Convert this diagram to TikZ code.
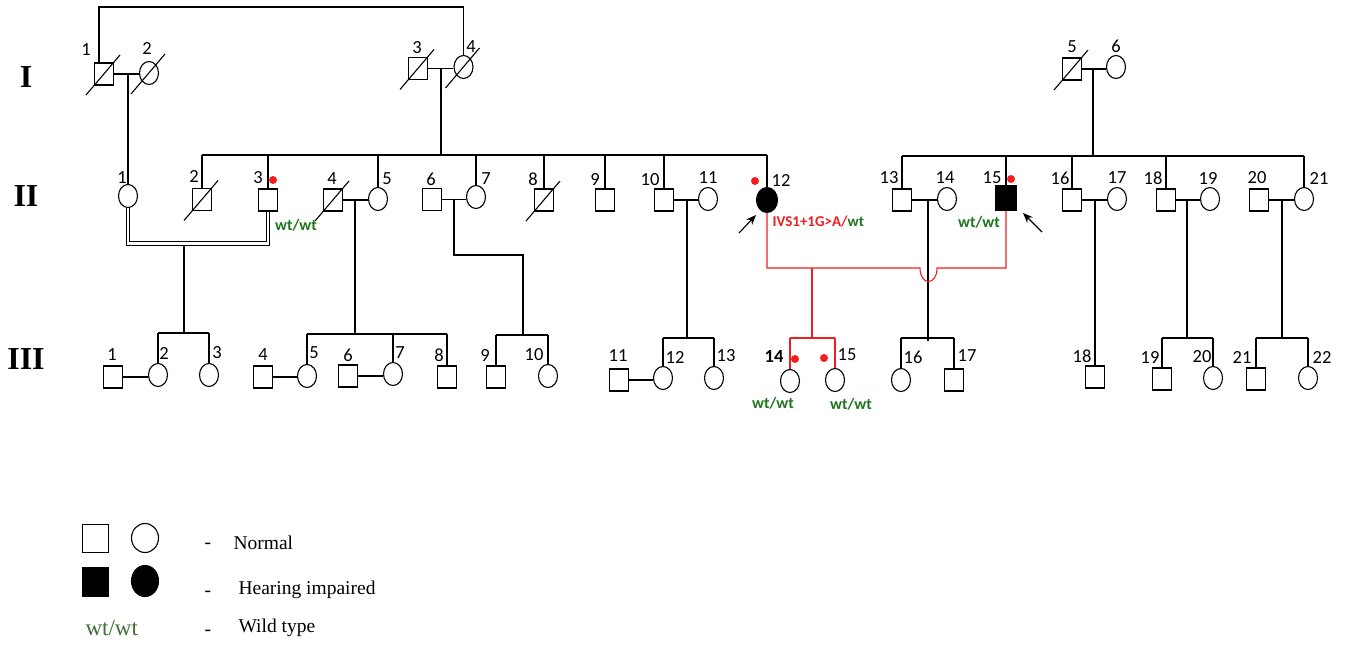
\documentclass[tikz,border=0pt]{standalone}
\usepackage{fontspec}
\setmainfont{Liberation Serif}
\newfontfamily\calfont{Carlito}
\usetikzlibrary{shapes.geometric,arrows.meta,calc}
\definecolor{gred}{RGB}{240,30,30}
\definecolor{dgreen}{RGB}{28,118,28}
\definecolor{lgreen}{RGB}{60,112,50}
\newcommand\deceased[1]{\draw ([shift={(-18,21)}]#1.center) -- ([shift={(16,-19)}]#1.center);}
\begin{document}
\begin{tikzpicture}[x=1pt,y=-1pt,line width=1.1pt,
  msq/.style={draw,rectangle,minimum width=19pt,minimum height=22pt,inner sep=0pt},
  fci/.style={draw,ellipse,minimum width=19pt,minimum height=23pt,inner sep=0pt},
  aff/.style={fill=black},
  num/.style={font=\calfont\fontsize{18.5}{18.5}\selectfont,inner sep=0pt},
  gen/.style={font=\bfseries\fontsize{32}{32}\selectfont,inner sep=0pt},
  gt/.style={font=\calfont\bfseries\fontsize{16}{16}\selectfont,inner sep=0pt,text=dgreen},
  leg/.style={font=\fontsize{19.5}{19.5}\selectfont,inner sep=0pt,anchor=west},
  rdot/.style={circle,fill=gred,draw=none,minimum size=8pt,inner sep=0pt},
  arr/.style={-{Stealth[length=10pt,width=8pt]},line width=1.1pt},
  red line/.style={draw=gred,line width=1.1pt}]
\useasboundingbox (0,0) rectangle (1346,645);

% generation labels
\node[gen] (gI) at (26,77) {I};
\node[gen] (gII) at (26,196) {II};
\node[gen] (gIII) at (26,359) {III};

% ---------- Generation I ----------
\node[msq] (I1) at (104,74) {};
\node[fci] (I2) at (149,73) {};
\node[msq] (I3) at (418,68.5) {};
\node[fci] (I4) at (463.5,67) {};
\node[msq] (I5) at (1072,69) {};
\node[fci] (I6) at (1116,67) {};
\deceased{I1}\deceased{I2}\deceased{I3}\deceased{I4}\deceased{I5}
\node[num] (nI1) at (86,50) {1};
\node[num] (nI2) at (147,48) {2};
\node[num] (nI3) at (417,48) {3};
\node[num] (nI4) at (471,47) {4};
\node[num] (nI5) at (1072,47) {5};
\node[num] (nI6) at (1116,46) {6};

\coordinate (top) at (0,7);
\draw ([xshift=-5pt]I1.north) |- (top -| I4.north) -- (I4.north);
\draw (I1.east) -- (I2.west |- I1.east);
\draw (I3.east) -- (I4.west |- I3.east);
\draw (I5.east) -- (I6.west |- I5.east);

% ---------- Generation II ----------
\node[fci] (II1) at (128,196) {};
\node[msq] (II2) at (202,199.5) {};
\node[msq] (II3) at (268,200) {};
\node[msq] (II4) at (333,200) {};
\node[fci] (II5) at (378,199) {};
\node[msq] (II6) at (432,199.5) {};
\node[fci] (II7) at (476,197) {};
\node[msq] (II8) at (544,200) {};
\node[msq] (II9) at (605,200) {};
\node[msq] (II10) at (664,200) {};
\node[fci] (II11) at (708,199) {};
\node[fci,aff,minimum width=21pt,minimum height=25pt] (II12) at (767,200) {};
\node[msq] (II13) at (902,200) {};
\node[fci] (II14) at (947,199) {};
\node[msq,aff,minimum width=21pt,minimum height=24pt] (II15) at (1006,198) {};
\node[msq] (II16) at (1072,200) {};
\node[fci] (II17) at (1117,199) {};
\node[msq] (II18) at (1166,200) {};
\node[fci] (II19) at (1210,199) {};
\node[msq] (II20) at (1259,200) {};
\node[fci] (II21) at (1304,199) {};
\deceased{II2}\deceased{II4}\deceased{II8}

\node[num] (nII1) at (122,178) {1};
\node[num] (nII2) at (194,176) {2};
\node[num] (nII3) at (258,178) {3};
\node[num] (nII4) at (332,179) {4};
\node[num] (nII5) at (387,179) {5};
\node[num] (nII6) at (431,179) {6};
\node[num] (nII7) at (486,179) {7};
\node[num] (nII8) at (533,179) {8};
\node[num] (nII9) at (595,179) {9};
\node[num] (nII10) at (650,180) {10};
\node[num] (nII11) at (708,178) {11};
\node[num] (nII12) at (781,180) {12};
\node[num] (nII13) at (889,178) {13};
\node[num] (nII14) at (945,178) {14};
\node[num] (nII15) at (992,178) {15};
\node[num] (nII16) at (1060,178) {16};
\node[num] (nII17) at (1117,178) {17};
\node[num] (nII18) at (1153,178) {18};
\node[num] (nII19) at (1208,178) {19};
\node[num] (nII20) at (1257,178) {20};
\node[num] (nII21) at (1319,178) {21};

% descent I1-I2 -> II1
\draw (128,74) -- (II1.north);
% descent I3-I4 -> sibship
\coordinate (sA) at (0,155);
\draw (441,68) -- (441,155);
\draw (II2.north |- sA) -- (II12.north |- sA);
\foreach \n in {II2,II3,II5,II7,II8,II9,II10,II12}{\draw (\n.north |- sA) -- (\n.north);}
% descent I5-I6 -> sibship
\coordinate (sB) at (0,156);
\draw (1093,68) -- (1093,156);
\draw (II13.north |- sB) -- (II21.north |- sB);
\foreach \n in {II13,II15,II16,II18,II21}{\draw (\n.north |- sB) -- (\n.north);}

% marriages generation II
\draw (II4.east) -- (II5.west |- II4.east);
\draw (II6.east) -- (II7.west |- II6.east);
\draw (II10.east) -- (II11.west |- II10.east);
\draw (II13.east) -- (II14.west |- II13.east);
\draw (II16.east) -- (II17.west |- II16.east);
\draw (II18.east) -- (II19.west |- II18.east);
\draw (II20.east) -- (II21.west |- II20.east);

% consanguineous marriage II1 x II3
\coordinate (hB) at (0,243.5);
\draw[double,double distance=2.6pt,line width=1pt] (II1.south) -- (II1.south |- hB) -- (II3.south |- hB) -- (II3.south);

% genotype labels II
\node[rdot] (d3) at (273,180) {};
\node[gt,anchor=center] (g3) at (296,225) {wt/wt};
\node[rdot] (d12) at (755,181) {};
\node[gt,anchor=west,text=gred,font=\calfont\bfseries\fontsize{15}{15}\selectfont] (g12) at (772,222) {IVS1+1G>A/\textcolor{dgreen}{wt}};
\node[rdot] (d15) at (1011,179) {};
\node[gt,anchor=center] (g15) at (979,222) {wt/wt};
\coordinate (a12t) at (739,233);
\coordinate (a12h) at (756,215);
\draw[arr] (a12t) -- (a12h);
\coordinate (a15t) at (1042,232);
\coordinate (a15h) at (1023,213);
\draw[arr] (a15t) -- (a15h);

% ---------- Generation III ----------
\node[msq] (III1) at (113,377) {};
\node[fci] (III2) at (158,375) {};
\node[fci] (III3) at (209,375) {};
\node[msq] (III4) at (263,377) {};
\node[fci] (III5) at (307,376) {};
\node[msq] (III6) at (348,376) {};
\node[fci] (III7) at (393,374) {};
\node[msq] (III8) at (447,377) {};
\node[msq] (III9) at (496,377) {};
\node[fci] (III10) at (548,376) {};
\node[msq] (III11) at (619,380) {};
\node[fci] (III12) at (663,378) {};
\node[fci] (III13) at (714,378) {};
\node[fci] (III14) at (790,381) {};
\node[fci] (III15) at (835,380) {};
\node[fci] (III16) at (901,380) {};
\node[msq] (III17) at (954,380) {};
\node[msq] (III18) at (1095,377) {};
\node[msq] (III19) at (1162,379) {};
\node[fci] (III20) at (1213,378) {};
\node[msq] (III21) at (1256,379) {};
\node[fci] (III22) at (1308,378) {};

\node[num] (nIII1) at (112,355) {1};
\node[num] (nIII2) at (164,353) {2};
\node[num] (nIII3) at (217,353) {3};
\node[num] (nIII4) at (263,355) {4};
\node[num] (nIII5) at (314,353) {5};
\node[num] (nIII6) at (348,355) {6};
\node[num] (nIII7) at (400,353) {7};
\node[num] (nIII8) at (439,355) {8};
\node[num] (nIII9) at (485,355) {9};
\node[num] (nIII10) at (534,355) {10};
\node[num] (nIII11) at (618,356) {11};
\node[num] (nIII12) at (675,357) {12};
\node[num] (nIII13) at (726,356) {13};
\node[num,font=\calfont\bfseries\fontsize{18.5}{18.5}\selectfont] (nIII14) at (774,356) {14};
\node[num] (nIII15) at (847,355) {15};
\node[num] (nIII16) at (913,357) {16};
\node[num] (nIII17) at (967,356) {17};
\node[num] (nIII18) at (1082,356) {18};
\node[num] (nIII19) at (1150,357) {19};
\node[num] (nIII20) at (1202,357) {20};
\node[num] (nIII21) at (1242,357) {21};
\node[num] (nIII22) at (1322,357) {22};

% marriages generation III
\draw (III1.east) -- (III2.west |- III1.east);
\draw (III4.east) -- (III5.west |- III4.east);
\draw (III6.east) -- (III7.west |- III6.east);
\draw (III11.east) -- (III12.west |- III11.east);

% sibships generation III
\coordinate (t1) at (0,333);
\draw (184,245.5) -- (184,333);
\draw (III2.north |- t1) -- (III3.north |- t1);
\foreach \n in {III2,III3}{\draw (\n.north |- t1) -- (\n.north);}

\coordinate (t2) at (0,334);
\draw (355,200) -- (355,334);
\draw (III5.north |- t2) -- (III8.north |- t2);
\foreach \n in {III5,III7,III8}{\draw (\n.north |- t2) -- (\n.north);}

\coordinate (t3) at (0,335);
\draw (454,199.5) |- (523,255) -- (523,335);
\draw (III9.north |- t3) -- (III10.north |- t3);
\foreach \n in {III9,III10}{\draw (\n.north |- t3) -- (\n.north);}

\coordinate (t4) at (0,338);
\draw (687,199) -- (687,338);
\draw (III12.north |- t4) -- (III13.north |- t4);
\foreach \n in {III12,III13}{\draw (\n.north |- t4) -- (\n.north);}

\draw (928,200) -- (928,341);
\draw (III16.north |- t4) -- (III17.north |- t4);
\foreach \n in {III16,III17}{\draw (\n.north |- t4) -- (\n.north);}

\draw (III18.north |- II16.east) -- (III18.north);

\draw (1187,200) -- (1187,338);
\draw (III19.north |- t4) -- (III20.north |- t4);
\foreach \n in {III19,III20}{\draw (\n.north |- t4) -- (\n.north);}

\draw (1282,200) -- (1282,338);
\draw (III21.north |- t4) -- (III22.north |- t4);
\foreach \n in {III21,III22}{\draw (\n.north |- t4) -- (\n.north);}

% red lines: II12 x II15 -> III14, III15
\coordinate (rm) at (0,268);
\draw[red line] (II12.south) -- (II12.south |- rm) -- (920,268) .. controls (920,286) and (937,286) .. (937,268) -- (II15.south |- rm) -- (II15.south);
\draw[red line] (812,268) -- (812,338);
\draw[red line] (III14.north |- t4) -- (III15.north |- t4);
\foreach \n in {III14,III15}{\draw[red line] (\n.north |- t4) -- (\n.north);}

\node[rdot] (d14) at (795,359) {};
\node[rdot] (d15b) at (824,358) {};
\node[gt,anchor=center] (g14) at (773,403) {wt/wt};
\node[gt,anchor=center] (g15b) at (851,404) {wt/wt};

% ---------- Legend ----------
\node[msq,minimum width=26pt,minimum height=28pt] (L1) at (95.5,538.5) {};
\node[fci,minimum width=27pt,minimum height=29pt] (L2) at (145,538) {};
\node[msq,aff,minimum width=26pt,minimum height=29pt] (L3) at (95.5,582) {};
\node[fci,aff,minimum width=27pt,minimum height=31pt] (L4) at (145,581) {};
\node[leg] (ld1) at (204,546) {-};
\node[leg] (lt1) at (233,543) {Normal};
\node[leg] (ld2) at (204,594) {-};
\node[leg] (lt2) at (238,590) {Hearing impaired};
\node[leg,font=\fontsize{23}{23}\selectfont,text=lgreen] (lw) at (85,628) {wt/wt};
\node[leg] (ld3) at (204,633) {-};
\node[leg] (lt3) at (238,628) {Wild type};
\end{tikzpicture}
\end{document}
